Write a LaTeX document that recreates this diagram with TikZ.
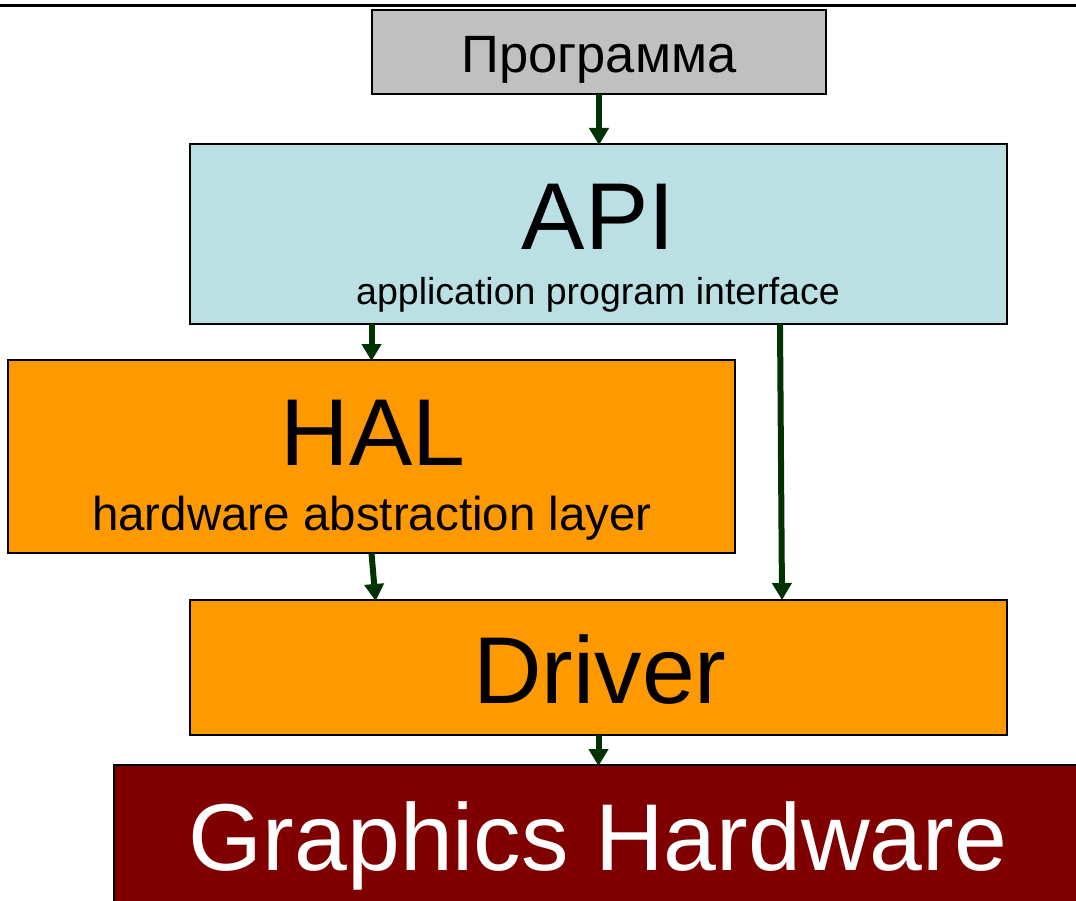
\documentclass[tikz,border=0pt]{standalone}
\usepackage{fontspec}
\setmainfont{Liberation Sans}
\usetikzlibrary{arrows.meta,calc}
\definecolor{progGray}{RGB}{192,192,192}
\definecolor{apiBlue}{RGB}{187,224,227}
\definecolor{layerOrange}{RGB}{255,153,0}
\definecolor{hwRed}{RGB}{128,0,0}
\definecolor{arrowGreen}{RGB}{0,51,0}
\tikzset{
  box/.style={draw=black, line width=2.3pt, rectangle, inner sep=0pt, outer sep=0pt},
  lbl/.style={anchor=base, inner sep=0pt, text=black},
  flow/.style={draw=arrowGreen, line width=6pt, -{Triangle[width=19pt,length=17pt]}, shorten >=-1pt}
}
\begin{document}
\begin{tikzpicture}[x=1pt,y=-1pt]
\useasboundingbox (0,0) rectangle (1076,901);
\fill[white] (0,0) rectangle (1076,901);
\draw[line width=3pt] (0,6) -- (1076,6);
% boxes
\node[box, fill=progGray, minimum width=454pt, minimum height=84pt] (prog) at (599,52) {};
\node[box, fill=apiBlue, minimum width=817pt, minimum height=180pt] (api) at (598.5,234) {};
\node[box, fill=layerOrange, minimum width=727pt, minimum height=193pt] (hal) at (371.5,456.5) {};
\node[box, fill=layerOrange, minimum width=817pt, minimum height=135pt] (drv) at (598.5,667.5) {};
\node[box, fill=hwRed, minimum width=976pt, minimum height=150pt] (gh) at (602,840) {};
% texts
\node[lbl, font=\fontsize{52.5}{58}\selectfont] (progT) at (599,73) {Программа};
\node[lbl, font=\fontsize{95}{100}\selectfont] (apiT) at (598.5,250) {API};
\node[lbl, font=\fontsize{37.5}{42}\selectfont] (apiS) at (598,305) {application program interface};
\node[lbl, font=\fontsize{47.5}{52}\selectfont] (halS) at (372,530) {hardware abstraction layer};
\node[lbl, font=\fontsize{95}{100}\selectfont] (halT) at (373,465) {HAL};
\node[lbl, font=\fontsize{95}{100}\selectfont] (drvT) at (600,703) {Driver};
\node[lbl, font=\fontsize{95}{100}\selectfont, text=white] (ghT) at (598,870) {Graphics Hardware};
% connectors
\draw[flow] (prog.south) -- (prog.south |- api.north);
\draw[flow] (hal.north |- api.south) -- (hal.north);
\draw[flow] (hal.south) -- ($(hal.south |- drv.north)+(4,0)$);
\coordinate (apiR) at ($(api.south)+(181.5,0)$);
\draw[flow] (apiR) -- ($(apiR |- drv.north)+(2,-1)$);
\draw[flow] (drv.south) -- (drv.south |- gh.north);
\end{tikzpicture}
\end{document}
